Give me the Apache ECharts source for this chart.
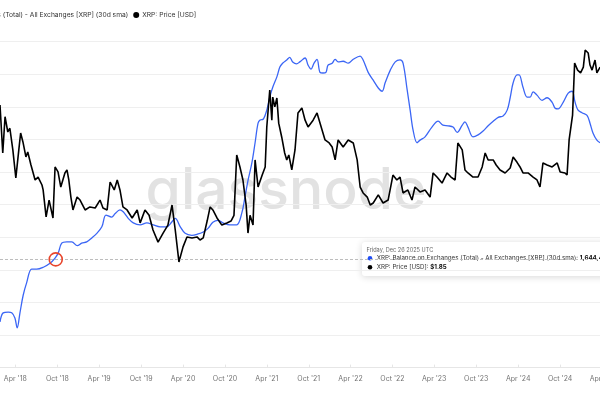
<!DOCTYPE html>
<html>
<head>
<meta charset="utf-8">
<title>XRP Balance on Exchanges vs Price</title>
<script src="https://cdn.jsdelivr.net/npm/echarts@6/dist/echarts.min.js"></script>
<style>
	html, body { margin: 0; padding: 0; background: #fff; overflow: hidden; }
	/* the plot runs on past the right edge of the 600px window */
	#chart { width: 640px; height: 400px; }
</style>
</head>
<body>
<div id="chart"></div>
<script>
	// XRP: Balance on Exchanges (Total) - All Exchanges [XRP] (30d sma), in billions of XRP
	const balanceDates = [
		'2018-01-24','2018-02-07','2018-03-01','2018-03-16','2018-03-30','2018-04-09','2018-04-21','2018-05-05','2018-05-20','2018-06-11',
		'2018-07-03','2018-08-01','2018-08-30','2018-09-21','2018-10-05','2018-10-20','2018-11-11','2018-12-03','2018-12-27',
		'2019-01-15','2019-02-06','2019-02-28','2019-03-22','2019-04-13','2019-05-01','2019-05-26','2019-06-09','2019-07-01','2019-07-15',
		'2019-08-06','2019-08-28','2019-09-27','2019-10-26','2019-11-23','2019-12-23',
		'2020-01-21','2020-02-11','2020-02-27','2020-03-20','2020-04-10','2020-05-09','2020-06-05','2020-06-28','2020-07-20','2020-08-09',
		'2020-08-31','2020-09-22','2020-10-22','2020-11-21','2020-12-13','2020-12-27',
		'2021-01-09','2021-01-26','2021-02-09','2021-02-22','2021-03-03','2021-03-16','2021-04-01','2021-04-14','2021-04-27','2021-05-15',
		'2021-05-28','2021-06-09','2021-06-27','2021-07-10','2021-07-23','2021-08-09','2021-08-23','2021-09-15','2021-09-28','2021-10-11',
		'2021-10-24','2021-11-06','2021-11-19','2021-12-02','2021-12-15','2021-12-24',
		'2022-01-11','2022-01-24','2022-02-06','2022-02-28','2022-03-22','2022-04-13','2022-05-13','2022-05-26','2022-06-17','2022-07-09',
		'2022-07-31','2022-08-17','2022-08-30','2022-09-21','2022-10-13','2022-11-03','2022-11-16','2022-12-04','2022-12-17','2022-12-30',
		'2023-01-16','2023-01-29','2023-02-20','2023-03-22','2023-04-18','2023-05-09','2023-05-31','2023-06-22','2023-07-10','2023-08-01',
		'2023-08-13','2023-08-26','2023-09-17','2023-10-09','2023-10-31','2023-11-22','2023-12-14',
		'2024-01-05','2024-01-26','2024-02-13','2024-02-26','2024-03-10','2024-03-27','2024-04-05','2024-04-22','2024-05-10','2024-05-23',
		'2024-06-05','2024-06-22','2024-07-14','2024-08-05','2024-08-27','2024-09-09','2024-09-22','2024-10-14','2024-11-05','2024-11-22',
		'2024-12-05','2024-12-18',
		'2025-01-04','2025-01-26','2025-02-08','2025-02-21','2025-03-10','2025-03-24'
	];
	const balanceValues = [
		0.70,0.84,0.85,0.84,0.76,0.61,0.84,1.11,1.30,1.51,
		1.51,1.54,1.60,1.68,1.76,1.91,1.93,1.93,1.87,
		1.91,1.93,1.99,2.06,2.16,2.34,2.31,2.36,2.42,2.39,
		2.29,2.22,2.19,2.22,2.19,2.16,
		2.16,2.23,2.29,2.16,2.06,2.03,2.05,2.08,2.14,2.23,
		2.26,2.22,2.19,2.19,2.37,2.62,
		2.87,3.14,3.45,3.75,3.80,3.81,3.95,4.15,4.30,4.46,
		4.61,4.67,4.72,4.76,4.69,4.66,4.69,4.75,4.64,4.58,
		4.67,4.73,4.53,4.52,4.53,4.64,
		4.67,4.73,4.69,4.70,4.67,4.73,4.78,4.72,4.53,4.41,
		4.29,4.24,4.37,4.56,4.69,4.72,4.67,4.26,3.95,3.64,
		3.45,3.49,3.54,3.69,3.78,3.72,3.71,3.69,3.61,3.72,
		3.77,3.69,3.54,3.57,3.63,3.71,3.78,
		3.84,3.86,3.95,4.14,4.37,4.49,4.49,4.30,4.15,4.15,
		4.23,4.18,4.10,4.14,4.07,3.98,3.97,4.07,4.21,4.24,
		4.07,3.95,
		3.91,3.87,3.75,3.60,3.49,3.45
	];

	// XRP: Price [USD]
	const priceDates = [
		'2018-01-24','2018-02-05','2018-02-15','2018-02-27','2018-03-08','2018-03-21','2018-04-03','2018-04-16','2018-04-24','2018-05-04',
		'2018-05-17','2018-05-25','2018-06-08','2018-06-26','2018-07-09','2018-07-26','2018-07-31','2018-08-13','2018-08-26','2018-09-12',
		'2018-09-21','2018-10-04','2018-10-16','2018-11-03','2018-11-12','2018-11-20','2018-11-29','2018-12-08','2018-12-26',
		'2019-01-08','2019-01-30','2019-02-20','2019-03-15','2019-04-05','2019-04-18','2019-05-06','2019-05-19','2019-06-06','2019-06-19',
		'2019-07-01','2019-07-14','2019-08-01','2019-08-23','2019-09-14','2019-09-27','2019-10-18','2019-11-05','2019-11-22','2019-12-14',
		'2020-01-05','2020-01-26','2020-02-13','2020-02-27','2020-03-14','2020-04-01','2020-04-18','2020-05-10','2020-06-01','2020-06-14',
		'2020-06-28','2020-07-15','2020-07-28','2020-08-09','2020-08-27','2020-09-17','2020-10-09','2020-10-27','2020-11-09','2020-11-21',
		'2020-12-05','2020-12-18',
		'2021-01-01','2021-01-09','2021-01-18','2021-01-31','2021-02-09','2021-02-22','2021-03-12','2021-03-25','2021-04-01','2021-04-14',
		'2021-04-23','2021-04-27','2021-05-06','2021-05-15','2021-05-23','2021-06-05','2021-06-18','2021-06-27','2021-07-06','2021-07-19',
		'2021-08-02','2021-08-15','2021-09-01','2021-09-15','2021-09-28','2021-10-20','2021-11-06','2021-11-28','2021-12-11','2021-12-29',
		'2022-01-11','2022-01-24','2022-02-06','2022-02-28','2022-03-22','2022-04-13','2022-04-30','2022-05-13','2022-05-26','2022-06-13',
		'2022-06-26','2022-07-09','2022-07-31','2022-08-21','2022-09-12','2022-10-03','2022-10-20','2022-11-03','2022-11-16','2022-12-07',
		'2022-12-25',
		'2023-01-07','2023-01-29','2023-02-20','2023-03-14','2023-03-27','2023-04-13','2023-05-05','2023-05-27','2023-06-13','2023-07-01',
		'2023-07-13','2023-08-01','2023-08-13','2023-08-26','2023-09-17','2023-10-09','2023-10-27','2023-11-09','2023-11-22','2023-12-14',
		'2023-12-27',
		'2024-01-13','2024-02-04','2024-02-26','2024-03-10','2024-03-27','2024-04-09','2024-04-22','2024-05-14','2024-06-05','2024-06-22',
		'2024-07-05','2024-07-18','2024-08-05','2024-08-27','2024-09-18','2024-10-01','2024-10-22','2024-10-31','2024-11-09','2024-11-24',
		'2024-12-03','2024-12-16','2024-12-29',
		'2025-01-10','2025-01-18','2025-01-31','2025-02-08','2025-02-17','2025-03-02','2025-03-10','2025-03-24'
	];
	const priceValues = [
		1.44,0.706,1.21,0.965,1.02,0.739,0.487,0.739,0.951,0.832,
		0.666,0.717,0.591,0.473,0.494,0.439,0.408,0.273,0.351,0.269,
		0.574,0.533,0.426,0.525,0.549,0.473,0.367,0.303,0.367,
		0.351,0.303,0.317,0.312,0.351,0.312,0.303,0.459,0.408,0.473,
		0.408,0.317,0.303,0.269,0.303,0.250,0.303,0.280,0.225,0.188,
		0.215,0.242,0.326,0.225,0.140,0.175,0.203,0.200,0.203,0.194,
		0.200,0.257,0.317,0.303,0.269,0.242,0.250,0.257,0.280,0.686,
		0.574,0.473,
		0.326,0.215,0.280,0.242,0.637,0.426,0.509,0.574,1.04,1.80,
		1.15,1.62,1.40,1.60,1.10,0.896,0.706,0.637,0.686,0.549,
		0.739,1.28,1.38,1.15,1.04,1.15,1.28,0.994,0.857,0.820,
		0.772,0.637,0.857,0.772,0.857,0.820,0.637,0.426,0.390,0.367,
		0.326,0.336,0.379,0.336,0.351,0.509,0.473,0.494,0.390,0.408,
		0.351,
		0.426,0.396,0.408,0.367,0.525,0.494,0.452,0.525,0.494,0.473,
		0.820,0.739,0.549,0.525,0.494,0.494,0.574,0.706,0.637,0.637,
		0.591,
		0.549,0.525,0.565,0.666,0.615,0.574,0.525,0.525,0.494,0.473,
		0.426,0.609,0.591,0.574,0.609,0.533,0.525,0.509,0.857,1.24,
		2.69,2.42,2.32,
		2.53,3.26,3.12,2.61,2.42,2.81,2.32,2.53
	];

	// x axis ticks
	const tickDates = [
		'2018-04-01','2018-10-01','2019-04-01','2019-10-01','2020-04-01','2020-10-01','2021-04-01','2021-10-01',
		'2022-04-01','2022-10-01','2023-04-01','2023-10-01','2024-04-01','2024-10-01','2025-04-01'
	];
	const tickLabels = [
		"Apr '18","Oct '18","Apr '19","Oct '19","Apr '20","Oct '20","Apr '21","Oct '21",
		"Apr '22","Oct '22","Apr '23","Oct '23","Apr '24","Oct '24","Apr '25"
	];

	const balanceName = 'XRP: Balance on Exchanges (Total) - All Exchanges [XRP] (30d sma)';
	const priceName = 'XRP: Price [USD]';
	const currentBalance = 1.66;
	const crossDate = '2018-09-24';
	// x = 0 is late Jan 2018, x = 640 (container edge) is mid Sep 2025
	const firstDate = '2018-01-24';
	const lastDate = '2025-09-14';

	const FONT = 'Inter';
	const LEGEND_SIZE = 6.7;
	const toTime = s => +echarts.time.parse(s);
	const tickTimes = tickDates.map(toTime);

	// the first legend entry is cut off at the left edge; shift it so "(Total)" starts at x=3
	const ctx = document.createElement('canvas').getContext('2d');
	ctx.font = LEGEND_SIZE + 'px ' + FONT;
	const hiddenWidth = 6 + 3 + ctx.measureText('XRP: Balance on Exchanges ').width;

	const chart = echarts.init(document.getElementById('chart'), null, { renderer: 'canvas' });
	const option = {
		animation: false,
		backgroundColor: '#fff',
		textStyle: { fontFamily: FONT },
		legend: {
			left: 2.7 - hiddenWidth,
			top: 11.5,
			padding: 0,
			icon: 'circle',
			itemWidth: 6,
			itemHeight: 6,
			itemGap: 5,
			textStyle: { fontSize: LEGEND_SIZE, color: '#333', fontFamily: FONT, padding: [0, 0, 0, -2] },
			data: [balanceName, priceName]
		},
		grid: { left: 0, right: 0, top: 41.7, bottom: 32.4, outerBoundsMode: 'none' },
		xAxis: {
			type: 'value',
			min: toTime(firstDate),
			max: toTime(lastDate),
			splitLine: { show: false },
			axisLine: { show: true, lineStyle: { color: '#e6e6e6', width: 1 } },
			axisTick: { show: true, customValues: tickTimes, length: 3, inside: true, lineStyle: { color: '#e6e6e6' } },
			axisLabel: {
				customValues: tickTimes,
				margin: 8,
				fontSize: 7,
				color: '#737373',
				fontFamily: FONT,
				formatter: function (value) {
					const i = tickTimes.indexOf(value);
					return i >= 0 ? tickLabels[i] : '';
				}
			}
		},
		yAxis: [
			{
				type: 'value',
				min: 0,
				max: 5,
				interval: 0.5,
				axisLabel: { show: false },
				axisLine: { show: false },
				axisTick: { show: false },
				splitLine: { lineStyle: { color: '#efefef', width: 1 } }
			},
			{
				type: 'log',
				logBase: 10,
				min: 0.02913,
				max: 3.69,
				axisLabel: { show: false },
				axisLine: { show: false },
				axisTick: { show: false },
				splitLine: { show: false }
			}
		],
		series: [
			{
				name: balanceName,
				type: 'line',
				yAxisIndex: 0,
				data: balanceDates.map((d, i) => [toTime(d), balanceValues[i]]),
				showSymbol: false,
				smooth: 0.35,
				lineStyle: { color: '#3b66f5', width: 1.3 },
				itemStyle: { color: '#2a56f6' },
				markLine: {
					silent: true,
					symbol: ['none', 'none'],
					label: { show: false },
					lineStyle: { color: '#bdbdbd', type: [3, 2], width: 1 },
					data: [{ yAxis: currentBalance }]
				},
				markPoint: {
					silent: true,
					label: { show: false },
					data: [{
						coord: [toTime(crossDate), currentBalance],
						symbol: 'circle',
						symbolSize: 13,
						itemStyle: { color: 'rgba(0,0,0,0)', borderColor: '#e8452c', borderWidth: 1.6 }
					}]
				}
			},
			{
				name: priceName,
				type: 'line',
				yAxisIndex: 1,
				data: priceDates.map((d, i) => [toTime(d), priceValues[i]]),
				showSymbol: false,
				lineStyle: { color: '#000', width: 1.6 },
				itemStyle: { color: '#000' }
			}
		],
		graphic: [
			{
				type: 'text',
				z: -10,
				x: 286,
				y: 192,
				silent: true,
				style: {
					text: 'glassnode',
					fontSize: 57,
					fontWeight: 500,
					fontFamily: FONT,
					fill: '#e2e2e2',
					align: 'center',
					verticalAlign: 'middle'
				}
			},
			{
				type: 'group',
				x: 362,
				y: 242,
				z: 100,
				children: [
					{
						type: 'rect',
						shape: { x: 0, y: 0, width: 270, height: 34, r: 3 },
						style: { fill: '#fff', shadowBlur: 7, shadowColor: 'rgba(0,0,0,0.16)', shadowOffsetY: 1 }
					},
					{
						type: 'text',
						x: 4.5, y: 8.3,
						style: { text: 'Friday, Dec 26 2025 UTC', fontSize: 5.6, fontFamily: FONT, fill: '#666', verticalAlign: 'middle' }
					},
					{ type: 'circle', shape: { cx: 8, cy: 16.3, r: 2.3 }, style: { fill: '#1f4df5' } },
					{
						type: 'text',
						x: 14.7, y: 16.3,
						style: {
							text: balanceName + ': {b|1,644,400,000}',
							fontSize: 6.2, fontFamily: FONT, fill: '#333', verticalAlign: 'middle',
							rich: { b: { fontSize: 6.2, fontFamily: FONT, fontWeight: 'bold', fill: '#111' } }
						}
					},
					{ type: 'circle', shape: { cx: 8, cy: 25.3, r: 2.3 }, style: { fill: '#000' } },
					{
						type: 'text',
						x: 14.7, y: 25.3,
						style: {
							text: priceName + ': {b|$1.85}',
							fontSize: 6.2, fontFamily: FONT, fill: '#333', verticalAlign: 'middle',
							rich: { b: { fontSize: 6.2, fontFamily: FONT, fontWeight: 'bold', fill: '#111' } }
						}
					}
				]
			}
		]
	};
	chart.setOption(option);
</script>
</body>
</html>
